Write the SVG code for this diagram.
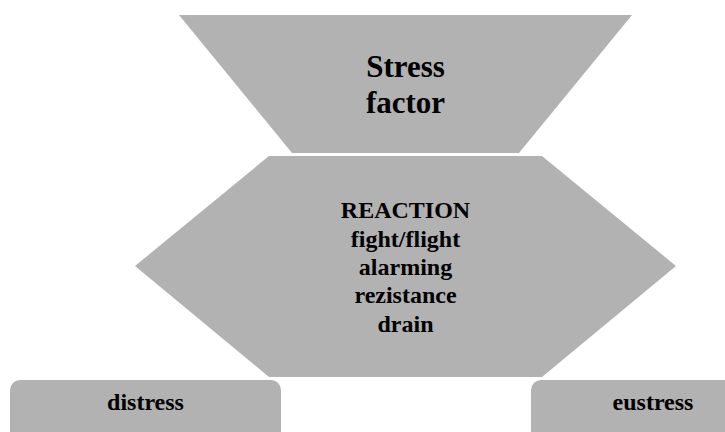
<svg xmlns="http://www.w3.org/2000/svg" width="725" height="432" viewBox="0 0 725 432">
<style>
.shape{fill:#b2b2b2;stroke:none}
.t{font-family:"Liberation Serif","DejaVu Serif",serif;font-weight:bold;fill:#000;text-anchor:middle}
</style>
<rect width="725" height="432" fill="#fff"/>
<g id="stress-factor">
<polygon class="shape" points="179,15 632,15 519,153 292,153"/>
<text class="t" x="405.5" y="77" font-size="31">Stress</text>
<text class="t" x="405.5" y="113" font-size="31">factor</text>
</g>
<g id="reaction">
<polygon class="shape" points="269,156 542,156 676,266 542,377 269,377 135,266"/>
<text class="t" x="405.5" y="218" font-size="24">REACTION</text>
<text class="t" x="405.5" y="247" font-size="24">fight/flight</text>
<text class="t" x="405.5" y="275" font-size="24">alarming</text>
<text class="t" x="405.5" y="303" font-size="24">rezistance</text>
<text class="t" x="405.5" y="332" font-size="24">drain</text>
</g>
<g id="distress">
<rect class="shape" x="10" y="380" width="271" height="80" rx="10" ry="10"/>
<text class="t" x="145.5" y="410" font-size="24">distress</text>
</g>
<g id="eustress">
<rect class="shape" x="531" y="380" width="244" height="80" rx="10" ry="10"/>
<text class="t" x="653" y="410" font-size="24">eustress</text>
</g>
<g id="connectors"></g>
</svg>
